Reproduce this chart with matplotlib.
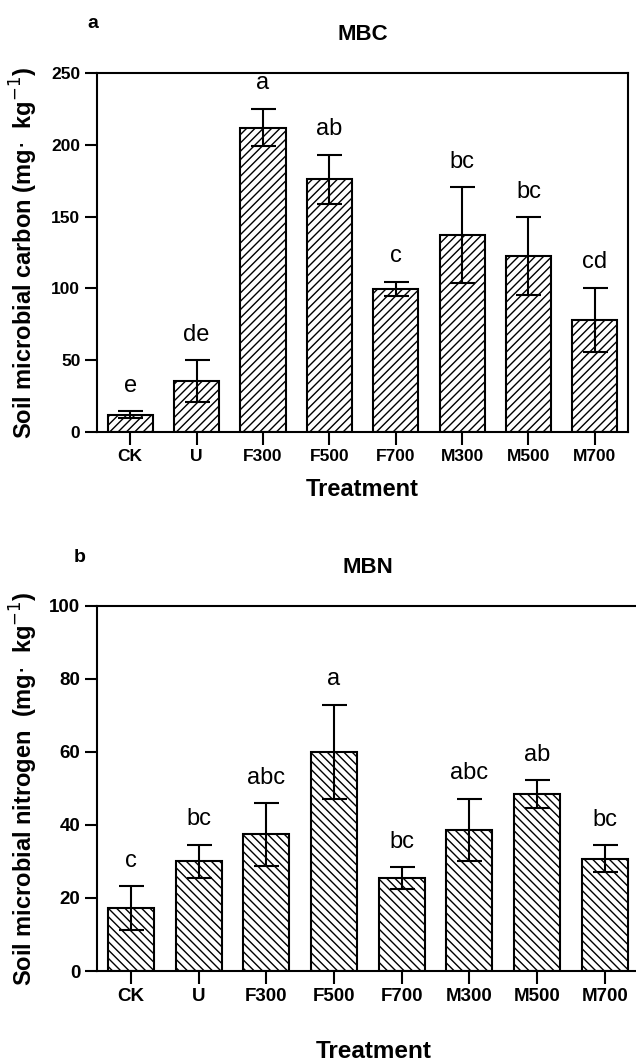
import numpy as np
import matplotlib.pyplot as plt

plt.rcParams['font.family'] = ['Liberation Sans', 'DejaVu Sans']
plt.rcParams['hatch.linewidth'] = 1.0

treatments = ['CK', 'U', 'F300', 'F500', 'F700', 'M300', 'M500', 'M700']

mbc = [12, 35.5, 212, 176, 99.5, 137, 122.5, 78]
mbc_err = [2.5, 14.5, 13, 17, 5, 33.5, 27, 22.5]
mbc_letters = ['e', 'de', 'a', 'ab', 'c', 'bc', 'bc', 'cd']

mbn = [17.3, 30.1, 37.4, 60, 25.4, 38.6, 48.5, 30.8]
mbn_err = [6, 4.5, 8.5, 13, 3, 8.6, 3.8, 3.7]
mbn_letters = ['c', 'bc', 'abc', 'a', 'bc', 'abc', 'ab', 'bc']

fig = plt.figure(figsize=(6.36, 10.64), dpi=100)
ax1 = fig.add_axes([0.1525, 0.594, 0.835, 0.3374])
ax2 = fig.add_axes([0.1525, 0.0874, 0.8516, 0.3431])

def panel(ax, vals, errs, letters, hatch, ymax, step, ylabel, title, ticksize):
    x = np.arange(len(treatments))
    ax.bar(x, vals, width=0.68, color='white', edgecolor='black',
           linewidth=1.5, hatch=hatch, zorder=2)
    ax.errorbar(x, vals, yerr=errs, fmt='none', ecolor='black',
                elinewidth=1.5, capsize=9, capthick=1.5, zorder=3)
    for i in range(len(x)):
        ax.annotate(letters[i], (x[i], vals[i] + errs[i]), xytext=(0, 14),
                    textcoords='offset points', ha='center', va='baseline',
                    fontsize=17)
    ax.set_xlim(-0.5, 7.5)
    ax.set_ylim(0, ymax)
    ax.set_yticks(np.arange(0, ymax + 1, step))
    ax.set_xticks(x)
    ax.set_xticklabels(treatments)
    for s in ax.spines.values():
        s.set_linewidth(1.5)
    ax.tick_params(direction='out', length=9, width=1.5, labelsize=ticksize, pad=3)
    for lab in ax.get_xticklabels() + ax.get_yticklabels():
        lab.set_fontweight('bold')
    ax.set_ylabel(ylabel, fontsize=17, fontweight='bold')
    ax.set_title(title, fontsize=16, fontweight='bold', pad=24)

panel(ax1, mbc, mbc_err, mbc_letters, '////', 250, 50,
      'Soil microbial carbon (mg$\\cdot$  kg$^{-1}$)', 'MBC', 12.5)
panel(ax2, mbn, mbn_err, mbn_letters, '\\\\\\\\', 100, 20,
      'Soil microbial nitrogen  (mg$\\cdot$  kg$^{-1}$)', 'MBN', 13.5)
ax1.yaxis.set_label_coords(-0.107, 0.5)
ax2.yaxis.set_label_coords(-0.105, 0.5)

ax1.set_xlabel('Treatment', fontsize=17, fontweight='bold', labelpad=10)
fig.text(0.146, 0.978, 'a', fontsize=14, fontweight='bold', ha='center', va='center')
fig.text(0.126, 0.476, 'b', fontsize=14, fontweight='bold', ha='center', va='center')
fig.text(0.588, 0.0113, 'Treatment', fontsize=17.5, fontweight='bold', ha='center', va='center')

fig.savefig('out.png', dpi=100)
